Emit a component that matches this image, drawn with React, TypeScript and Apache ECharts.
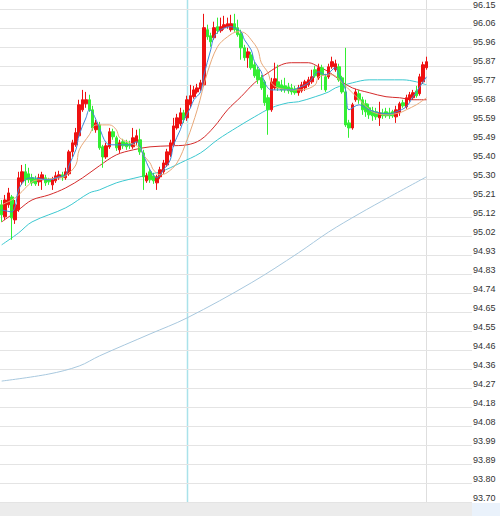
import React, { useEffect, useRef } from "react";
import * as echarts from "echarts";

// Y tick labels (bottom to top)
const yTickLabels = [
  "93.70", "93.80", "93.89", "93.99", "94.08", "94.18", "94.27", "94.36", "94.46",
  "94.55", "94.65", "94.74", "94.83", "94.93", "95.02", "95.12", "95.21", "95.30",
  "95.40", "95.49", "95.59", "95.68", "95.77", "95.87", "95.96", "96.06", "96.15",
];
const priceMin = 93.7;
const priceMax = 96.15;
const slotCount = 140; // category slots across the plot (last ones empty)
const crosshairIndex = 55;
const lastIndex = 126;

// Candles: [open, close, low, high]
const candles: number[][] = [
  [95.177, 95.127, 95.092, 95.201], [95.117, 95.201, 95.102, 95.226], [95.177, 95.236, 95.162, 95.261],
  [95.216, 95.112, 95.003, 95.226], [95.102, 95.177, 95.082, 95.201], [95.152, 95.311, 95.142, 95.341],
  [95.291, 95.341, 95.276, 95.375], [95.341, 95.301, 95.271, 95.380], [95.331, 95.301, 95.286, 95.361],
  [95.311, 95.286, 95.271, 95.331], [95.306, 95.281, 95.271, 95.321], [95.291, 95.311, 95.271, 95.331],
  [95.301, 95.326, 95.251, 95.341], [95.311, 95.286, 95.271, 95.326], [95.301, 95.291, 95.276, 95.311],
  [95.276, 95.301, 95.251, 95.316], [95.296, 95.321, 95.286, 95.341], [95.311, 95.326, 95.301, 95.346],
  [95.326, 95.311, 95.296, 95.341], [95.311, 95.341, 95.301, 95.361], [95.331, 95.440, 95.321, 95.450],
  [95.440, 95.485, 95.415, 95.500], [95.475, 95.535, 95.465, 95.559], [95.520, 95.674, 95.510, 95.699],
  [95.649, 95.699, 95.639, 95.748], [95.679, 95.699, 95.659, 95.738], [95.699, 95.649, 95.639, 95.724],
  [95.649, 95.559, 95.545, 95.669], [95.550, 95.584, 95.535, 95.599], [95.574, 95.460, 95.450, 95.589],
  [95.465, 95.415, 95.361, 95.475], [95.415, 95.470, 95.405, 95.485], [95.465, 95.540, 95.455, 95.559],
  [95.540, 95.515, 95.500, 95.555], [95.510, 95.460, 95.445, 95.520], [95.450, 95.485, 95.435, 95.500],
  [95.490, 95.470, 95.455, 95.505], [95.485, 95.465, 95.450, 95.500], [95.480, 95.470, 95.455, 95.495],
  [95.465, 95.510, 95.455, 95.559], [95.490, 95.520, 95.475, 95.550], [95.500, 95.440, 95.425, 95.555],
  [95.435, 95.316, 95.251, 95.450], [95.296, 95.321, 95.286, 95.336], [95.341, 95.301, 95.286, 95.356],
  [95.321, 95.296, 95.281, 95.336], [95.286, 95.316, 95.251, 95.326], [95.316, 95.351, 95.306, 95.366],
  [95.341, 95.385, 95.331, 95.400], [95.375, 95.440, 95.366, 95.455], [95.425, 95.485, 95.415, 95.500],
  [95.475, 95.569, 95.465, 95.609], [95.559, 95.609, 95.550, 95.629], [95.579, 95.634, 95.569, 95.659],
  [95.634, 95.599, 95.584, 95.649], [95.609, 95.699, 95.594, 95.719], [95.674, 95.719, 95.659, 95.773],
  [95.714, 95.748, 95.704, 95.768], [95.738, 95.758, 95.729, 95.778], [95.753, 95.783, 95.743, 95.798],
  [95.773, 96.057, 95.763, 96.126], [96.047, 96.012, 95.997, 96.072], [96.017, 95.987, 95.962, 96.032],
  [96.007, 96.057, 95.997, 96.087], [96.062, 96.042, 96.027, 96.107], [96.042, 96.062, 96.032, 96.107],
  [96.057, 96.072, 96.047, 96.116], [96.062, 96.077, 96.052, 96.107], [96.047, 96.077, 96.037, 96.121],
  [96.077, 96.047, 96.037, 96.126], [96.057, 96.022, 96.012, 96.097], [96.027, 95.957, 95.898, 96.047],
  [95.957, 95.908, 95.893, 95.972], [95.908, 95.937, 95.858, 95.957], [95.922, 95.858, 95.848, 95.937],
  [95.873, 95.818, 95.808, 95.888], [95.848, 95.798, 95.778, 95.863], [95.808, 95.758, 95.748, 95.823],
  [95.788, 95.684, 95.669, 95.798], [95.709, 95.649, 95.525, 95.724], [95.649, 95.788, 95.639, 95.808],
  [95.758, 95.803, 95.748, 95.883], [95.788, 95.758, 95.743, 95.873], [95.773, 95.748, 95.738, 95.798],
  [95.768, 95.748, 95.734, 95.808], [95.763, 95.743, 95.729, 95.783], [95.758, 95.738, 95.724, 95.778],
  [95.753, 95.734, 95.724, 95.768], [95.734, 95.758, 95.719, 95.773], [95.743, 95.773, 95.734, 95.788],
  [95.758, 95.788, 95.743, 95.798], [95.773, 95.798, 95.763, 95.813], [95.788, 95.813, 95.778, 95.848],
  [95.848, 95.818, 95.808, 95.868], [95.808, 95.858, 95.798, 95.878], [95.858, 95.823, 95.748, 95.873],
  [95.813, 95.748, 95.738, 95.828], [95.813, 95.863, 95.803, 95.878], [95.863, 95.888, 95.853, 95.913],
  [95.848, 95.878, 95.838, 95.898], [95.863, 95.798, 95.788, 95.878], [95.808, 95.738, 95.729, 95.818],
  [95.738, 95.574, 95.564, 95.957], [95.584, 95.559, 95.510, 95.599], [95.559, 95.674, 95.550, 95.684],
  [95.699, 95.738, 95.689, 95.753], [95.729, 95.699, 95.679, 95.748], [95.699, 95.649, 95.624, 95.714],
  [95.679, 95.639, 95.614, 95.699], [95.659, 95.624, 95.604, 95.679], [95.644, 95.619, 95.594, 95.664],
  [95.639, 95.614, 95.599, 95.659], [95.609, 95.634, 95.569, 95.689], [95.634, 95.619, 95.604, 95.654],
  [95.639, 95.619, 95.609, 95.659], [95.634, 95.619, 95.604, 95.659], [95.639, 95.619, 95.609, 95.649],
  [95.614, 95.649, 95.584, 95.669], [95.634, 95.679, 95.619, 95.689], [95.684, 95.669, 95.659, 95.699],
  [95.664, 95.709, 95.654, 95.724], [95.699, 95.724, 95.689, 95.738], [95.709, 95.734, 95.699, 95.748],
  [95.743, 95.719, 95.709, 95.768], [95.729, 95.813, 95.719, 95.828], [95.788, 95.873, 95.778, 95.888],
  [95.858, 95.888, 95.848, 95.913],
];

// Moving averages: [candle index, value]
const ma5: number[][] = [
  [0, 95.152], [3, 95.142], [4, 95.167], [5, 95.251], [7, 95.301], [9, 95.311], [14, 95.301],
  [17, 95.316], [19, 95.326], [20, 95.375], [22, 95.45], [23, 95.525], [25, 95.609], [26, 95.649],
  [27, 95.634], [29, 95.559], [31, 95.485], [33, 95.475], [35, 95.475], [38, 95.475], [40, 95.49],
  [42, 95.425], [44, 95.351], [46, 95.311], [48, 95.351], [50, 95.4], [51, 95.475], [53, 95.55],
  [54, 95.599], [56, 95.659], [57, 95.699], [59, 95.738], [60, 95.823], [62, 95.947], [63, 96.012],
  [65, 96.047], [68, 96.062], [69, 96.057], [71, 96.037], [72, 95.997], [74, 95.947], [75, 95.888],
  [77, 95.838], [78, 95.783], [80, 95.748], [83, 95.748], [86, 95.748], [88, 95.758], [91, 95.783],
  [94, 95.838], [96, 95.823], [99, 95.858], [100, 95.823], [102, 95.748], [103, 95.649], [106, 95.674],
  [109, 95.649], [112, 95.634], [115, 95.629], [117, 95.639], [120, 95.664], [122, 95.714],
  [124, 95.763], [126, 95.813],
];
const ma10: number[][] = [
  [0, 95.177], [3, 95.201], [5, 95.226], [9, 95.291], [11, 95.301], [17, 95.311], [19, 95.321],
  [22, 95.375], [23, 95.45], [26, 95.525], [28, 95.574], [32, 95.574], [34, 95.55], [35, 95.51],
  [38, 95.485], [41, 95.46], [42, 95.425], [44, 95.385], [45, 95.351], [47, 95.326], [49, 95.336],
  [52, 95.385], [55, 95.5], [58, 95.649], [61, 95.833], [64, 95.962], [67, 96.012], [70, 96.037],
  [72, 96.032], [74, 95.997], [76, 95.947], [77, 95.883], [79, 95.833], [80, 95.783], [82, 95.758],
  [86, 95.748], [89, 95.748], [93, 95.773], [94, 95.813], [98, 95.823], [101, 95.783], [104, 95.734],
  [107, 95.684], [110, 95.639], [114, 95.624], [118, 95.634], [120, 95.649], [123, 95.674],
  [126, 95.709],
];
const ma20: number[][] = [
  [0, 95.092], [5, 95.152], [9, 95.201], [14, 95.226], [19, 95.261], [24, 95.311], [29, 95.371],
  [34, 95.425], [39, 95.45], [44, 95.465], [50, 95.47], [55, 95.475], [59, 95.5], [63, 95.564],
  [67, 95.649], [71, 95.714], [75, 95.783], [79, 95.833], [83, 95.873], [86, 95.883], [91, 95.883],
  [94, 95.863], [97, 95.838], [101, 95.788], [104, 95.758], [109, 95.734], [114, 95.714],
  [118, 95.709], [122, 95.699], [126, 95.699],
];
const ma60: number[][] = [
  [0, 94.978], [5, 95.037], [9, 95.092], [19, 95.162], [26, 95.236], [29, 95.251], [34, 95.286],
  [41, 95.316], [47, 95.341], [50, 95.361], [53, 95.385], [59, 95.435], [64, 95.5], [70, 95.564],
  [75, 95.614], [80, 95.659], [85, 95.684], [88, 95.689], [93, 95.714], [97, 95.738], [99, 95.758],
  [104, 95.783], [109, 95.798], [114, 95.798], [119, 95.798], [123, 95.788], [126, 95.773],
];
const ma250: number[][] = [
  [0, 94.301], [14, 94.336], [23, 94.376], [29, 94.426], [44, 94.535], [55, 94.615], [74, 94.789],
  [88, 94.938], [97, 95.042], [106, 95.132], [115, 95.216], [126, 95.316],
];

const categories = Array.from({ length: slotCount }, (_, i) => "k" + i);

export default function App() {
  const ref = useRef<HTMLDivElement>(null);
  useEffect(() => {
    if (!ref.current) return;
    const chart = echarts.init(ref.current, undefined, { renderer: "svg" });
    const line = (data: number[][], color: string, z = 3) => ({
      type: "line",
      xAxisIndex: 1,
      yAxisIndex: 0,
      data,
      smooth: 0.35,
      showSymbol: false,
      symbol: "none",
      z,
      lineStyle: { color, width: 1 },
    });
    chart.setOption({
      animation: false,
      backgroundColor: "#ffffff",
      grid: { left: 0, top: 9, width: 472, height: 493, containLabel: false },
      xAxis: [
        {
          type: "category",
          data: categories,
          boundaryGap: true,
          show: false,
        },
        {
          type: "value",
          min: -0.5,
          max: slotCount - 0.5,
          show: false,
        },
      ],
      yAxis: [
        {
          type: "value",
          min: priceMin,
          max: priceMax,
          show: false,
          splitLine: { show: false },
        },
        {
          type: "value",
          min: 0,
          max: yTickLabels.length - 1,
          interval: 1,
          position: "right",
          axisLine: { show: false },
          axisTick: { show: false },
          splitLine: { show: true, lineStyle: { color: "#e4e4e4", width: 1 } },
          axisLabel: {
            margin: 1,
            align: "left",
            verticalAlign: "bottom",
            fontSize: 9,
            color: "#333333",
            fontFamily: "Liberation Sans",
            formatter: (v: number) => yTickLabels[Math.round(v)] ?? "",
          },
        },
      ],
      series: [
        line(ma250, "#a8c8de", 2),
        line(ma60, "#3cc8d0", 2),
        line(ma20, "#d42b2b", 2),
        {
          type: "candlestick",
          xAxisIndex: 0,
          yAxisIndex: 0,
          data: candles,
          barWidth: 3,
          z: 3,
          itemStyle: {
            color: "#ee1111",
            color0: "#33ee33",
            borderColor: "#ee1111",
            borderColor0: "#33ee33",
            borderWidth: 1,
          },
        },
        line(ma10, "#e8a878", 4),
        line(ma5, "#3d86d8", 5),
      ],
    });
    const xc = chart.convertToPixel({ xAxisIndex: 1 }, crosshairIndex) as number;
    const xl = chart.convertToPixel({ xAxisIndex: 1 }, lastIndex) as number;
    chart.setOption({
      graphic: [
        { type: "rect", shape: { x: 0, y: 503, width: 472, height: 13 }, style: { fill: "#ececec" }, silent: true },
        { type: "rect", shape: { x: 472, y: 503, width: 28, height: 13 }, style: { fill: "#eaf2fb" }, silent: true },
        {
          type: "line",
          shape: { x1: Math.round(xl) + 0.5, y1: 0, x2: Math.round(xl) + 0.5, y2: 503 },
          style: { stroke: "#dedede", lineWidth: 1 },
          z: -1,
          silent: true,
        },
        {
          type: "line",
          shape: { x1: Math.round(xc) + 0.5, y1: 0, x2: Math.round(xc) + 0.5, y2: 503 },
          style: { stroke: "#a9e2ea", lineWidth: 1.5 },
          z: -1,
          silent: true,
        },
      ],
    });
    return () => chart.dispose();
  }, []);
  return (
    <div
      ref={ref}
      style={{ position: "fixed", left: 0, top: 0, width: 500, height: 516 }}
    />
  );
}
